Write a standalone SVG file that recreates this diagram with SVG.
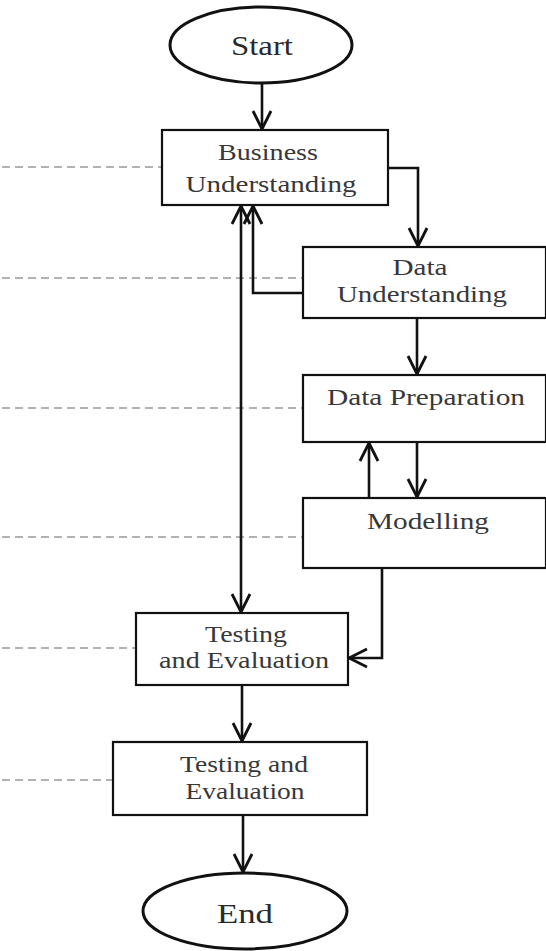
<svg xmlns="http://www.w3.org/2000/svg" width="546" height="951" viewBox="0 0 546 951">
<defs>
<marker id="arr" viewBox="0 0 22 22" refX="20" refY="11" markerWidth="22" markerHeight="22" markerUnits="userSpaceOnUse" orient="auto-start-reverse">
<path d="M2,2 L20,11 L2,20" fill="none" stroke="#111" stroke-width="2.8"/>
</marker>
</defs>
<style>
.box{fill:#fff;stroke:#111;stroke-width:2.2}
.t{font-family:"Liberation Serif","DejaVu Serif",serif;font-size:23.5px;fill:#383838;text-anchor:middle}
.tb{font-family:"Liberation Serif","DejaVu Serif",serif;font-size:28px;fill:#2a2a2a;text-anchor:middle}
.c{fill:none;stroke:#111;stroke-width:2.6}
.d{fill:none;stroke:#666;stroke-width:1.2;stroke-dasharray:8 5}
</style>
<rect width="546" height="951" fill="#fff"/>
<g id="guides">
<line class="d" x1="2" y1="167" x2="162" y2="167"/>
<line class="d" x1="2" y1="278" x2="303" y2="278"/>
<line class="d" x1="2" y1="408" x2="303" y2="408"/>
<line class="d" x1="2" y1="537" x2="303" y2="537"/>
<line class="d" x1="2" y1="648" x2="136" y2="648"/>
<line class="d" x1="2" y1="780" x2="113" y2="780"/>
</g>
<g id="connectors">
<line class="c" x1="262" y1="83" x2="262" y2="129" marker-end="url(#arr)"/>
<polyline class="c" points="388,168 418,168 418,246" marker-end="url(#arr)"/>
<polyline class="c" points="303,293 253,293 253,206" marker-end="url(#arr)"/>
<line class="c" x1="241" y1="206" x2="241" y2="612" marker-start="url(#arr)" marker-end="url(#arr)"/>
<line class="c" x1="417" y1="318" x2="417" y2="374" marker-end="url(#arr)"/>
<line class="c" x1="369" y1="498" x2="369" y2="443" marker-end="url(#arr)"/>
<line class="c" x1="417" y1="442" x2="417" y2="497" marker-end="url(#arr)"/>
<polyline class="c" points="382,568 382,658 349,658" marker-end="url(#arr)"/>
<line class="c" x1="242" y1="685" x2="242" y2="741" marker-end="url(#arr)"/>
<line class="c" x1="243" y1="815" x2="243" y2="872" marker-end="url(#arr)"/>
</g>
<g id="start">
<ellipse cx="261" cy="45" rx="91" ry="38" fill="#fff" stroke="#111" stroke-width="3"/>
<text class="tb" x="262" y="55" textLength="62" lengthAdjust="spacingAndGlyphs">Start</text>
</g>
<g id="business">
<rect class="box" x="162" y="130" width="226" height="75"/>
<text class="t" x="268" y="160" textLength="100" lengthAdjust="spacingAndGlyphs">Business</text>
<text class="t" x="271" y="192" textLength="171" lengthAdjust="spacingAndGlyphs">Understanding</text>
</g>
<g id="dataund">
<rect class="box" x="303" y="247" width="243" height="71"/>
<text class="t" x="420" y="275" textLength="55" lengthAdjust="spacingAndGlyphs">Data</text>
<text class="t" x="422" y="302" textLength="170" lengthAdjust="spacingAndGlyphs">Understanding</text>
</g>
<g id="dataprep">
<rect class="box" x="303" y="375" width="243" height="67"/>
<text class="t" x="426" y="405" textLength="198" lengthAdjust="spacingAndGlyphs">Data Preparation</text>
</g>
<g id="modelling">
<rect class="box" x="303" y="498" width="243" height="70"/>
<text class="t" x="428" y="529" textLength="122" lengthAdjust="spacingAndGlyphs">Modelling</text>
</g>
<g id="testing1">
<rect class="box" x="136" y="613" width="212" height="72"/>
<text class="t" x="246" y="642" textLength="82" lengthAdjust="spacingAndGlyphs">Testing</text>
<text class="t" x="244" y="668" textLength="170" lengthAdjust="spacingAndGlyphs">and Evaluation</text>
</g>
<g id="testing2">
<rect class="box" x="113" y="742" width="254" height="73"/>
<text class="t" x="244" y="772" textLength="128" lengthAdjust="spacingAndGlyphs">Testing and</text>
<text class="t" x="245" y="799" textLength="119" lengthAdjust="spacingAndGlyphs">Evaluation</text>
</g>
<g id="end">
<ellipse cx="245" cy="911" rx="102" ry="38" fill="#fff" stroke="#111" stroke-width="3"/>
<text class="tb" x="245" y="923" textLength="56" lengthAdjust="spacingAndGlyphs">End</text>
</g>
</svg>
